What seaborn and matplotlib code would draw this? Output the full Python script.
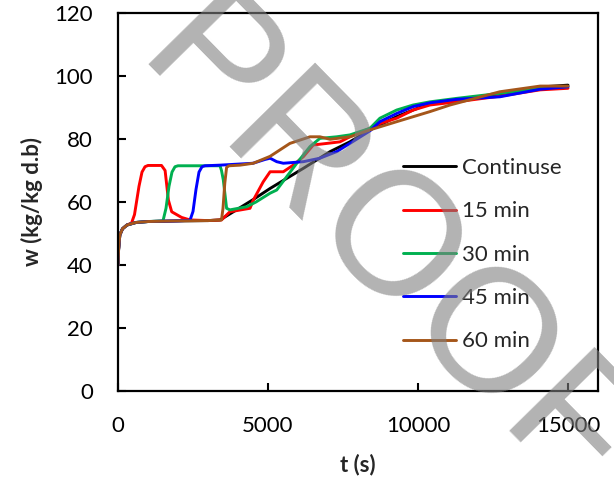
import matplotlib
matplotlib.use("Agg")
import matplotlib.pyplot as plt
import seaborn as sns
import pandas as pd

# ---- data ----
series_names = ["Continuse", "15 min", "30 min", "45 min", "60 min"]
series_colors = ["#000000", "#ff0000", "#00b050", "#0000ff", "#a5561a"]

t_cont = [0, 20, 60, 150, 300, 600, 1000, 2000, 3000, 3400, 4000, 4510, 5070, 6180, 7070, 7730,
          8400, 9290, 9840, 10400, 11070, 12730, 14070, 15000]
w_cont = [40, 45, 49.5, 51.5, 52.7, 53.5, 53.8, 54, 54.1, 54.3, 57.8, 60.8, 64.3, 70.7, 76, 79.1,
          82.9, 87.1, 89.2, 91.3, 92.4, 94, 96.5, 97.1]

t_15 = [0, 20, 60, 150, 300, 450, 550, 700, 800, 900, 1000, 1450, 1570, 1680, 1790, 2120, 2400,
        3000, 3450, 3730, 4400, 4510, 4840, 5070, 5510, 5840, 6180, 6510, 6960, 7400, 7730, 8400,
        8730, 9290, 9840, 10400, 11290, 12730, 14070, 15000]
w_15 = [40, 45, 49.5, 51.5, 52.7, 53.3, 56, 65, 69.5, 71.2, 71.6, 71.6, 70, 60.6, 56.9, 55.1, 54.3,
        54.1, 54.3, 56.9, 58, 60.6, 66.4, 69.6, 69.6, 71.7, 74.4, 78.1, 78.6, 79.1, 80.7, 83.4,
        84.9, 86.6, 89.2, 90.8, 91.8, 93.6, 95.6, 96.1]

t_30 = [0, 20, 60, 150, 300, 600, 1000, 1500, 1600, 1700, 1800, 1900, 2000, 3400, 3450, 3510,
        3620, 3730, 4290, 4600, 5070, 5290, 5620, 5960, 6400, 6730, 7290, 7730, 8400, 8730, 9290,
        9840, 10400, 11290, 12730, 14070, 15000]
w_30 = [40, 45, 49.5, 51.5, 52.7, 53.5, 53.8, 54, 58, 65, 69.5, 71.2, 71.5, 71.5, 70, 67,
        58, 57.5, 58.5, 60, 62.8, 63.8, 68, 72.3, 77.6, 80.2, 80.7, 81.3, 83.4, 86.6, 89.2,
        90.8, 91.8, 92.9, 94.5, 96.2, 96.6]

t_45 = [0, 20, 60, 150, 300, 600, 1000, 2000, 2400, 2500, 2600, 2700, 2800, 2900, 3400, 4500,
        4900, 5070, 5290, 5510, 6180, 6730, 7290, 7730, 8400, 8730, 9290, 9840, 10400, 11290,
        12730, 14070, 15000]
w_45 = [40, 45, 49.5, 51.5, 52.7, 53.5, 53.8, 54, 54.2, 57, 64, 69.5, 71.2, 71.5, 71.7, 72.3,
        73.5, 73.9, 72.8, 72.3, 72.8, 73.9, 76, 78.6, 82.6, 85.5, 88.1, 90.3, 91.5, 92.6,
        93.4, 95.8, 96.6]

t_60 = [0, 20, 60, 150, 300, 600, 1000, 2000, 3000, 3450, 3500, 3560, 3620, 3700, 4070, 4510,
        5070, 5730, 6400, 6730, 7070, 7730, 8400, 9290, 10400, 11070, 12730, 14070, 15000]
w_60 = [40, 45, 49.5, 51.5, 52.7, 53.5, 53.8, 54, 54.1, 54.3, 58, 66, 71, 71.5, 71.7, 72.3,
        74.5, 78.6, 80.7, 80.7, 79.9, 80.7, 82.9, 85.5, 88.7, 90.8, 95, 96.8, 96.8]

x_ticks = [0, 5000, 10000, 15000]
y_ticks = [0, 20, 40, 60, 80, 100, 120]

# ---- build long table ----
all_t = [t_cont, t_15, t_30, t_45, t_60]
all_w = [w_cont, w_15, w_30, w_45, w_60]
frames = []
for name, tt, ww in zip(series_names, all_t, all_w):
    frames.append(pd.DataFrame({"t": tt, "w": ww, "series": name}))
df = pd.concat(frames, ignore_index=True)

sns.set_theme(style="white")
plt.rcParams["font.family"] = ["Lato", "DejaVu Sans"]

fig = plt.figure(figsize=(6.14, 4.78), dpi=100)
ax = fig.add_axes([118 / 614, 1 - 391 / 478, (598 - 118) / 614, (391 - 13) / 478])

sns.lineplot(data=df, x="t", y="w", hue="series", hue_order=series_names,
             palette=dict(zip(series_names, series_colors)), sort=False, estimator=None,
             units="series", linewidth=2.1, ax=ax)

ax.set_xlim(0, 16000)
ax.set_ylim(0, 120)
ax.set_xticks(x_ticks)
ax.set_yticks(y_ticks)
ax.tick_params(axis="both", direction="in", length=6, width=1.5, labelsize=16,
               colors="black", pad=18)
ax.tick_params(axis="x", top=False, bottom=True)
ax.tick_params(axis="y", left=True, right=False)
for s in ax.spines.values():
    s.set_linewidth(1.6)
    s.set_color("black")

ax.set_xlabel("t (s)", fontsize=16, fontweight="bold", labelpad=13)
ax.set_ylabel("w (kg/kg d.b)", fontsize=16, fontweight="bold", labelpad=8)

leg = ax.legend(loc="upper left", bbox_to_anchor=(403 / 614, 1 - 158 / 478),
                bbox_transform=fig.transFigure, frameon=False, fontsize=16,
                handlelength=2.4, handletextpad=0.25, labelspacing=1.05,
                borderpad=0, borderaxespad=0)
for h in leg.get_lines():
    h.set_linewidth(2.1)

# watermark
fig.text(133 / 614, 1 - 64 / 478, "PROOF", rotation=-45.5, rotation_mode="anchor",
         ha="left", va="baseline", fontsize=126, color="#808080", alpha=0.6,
         family="Liberation Sans", zorder=10)

fig.savefig("out.png", dpi=100)
